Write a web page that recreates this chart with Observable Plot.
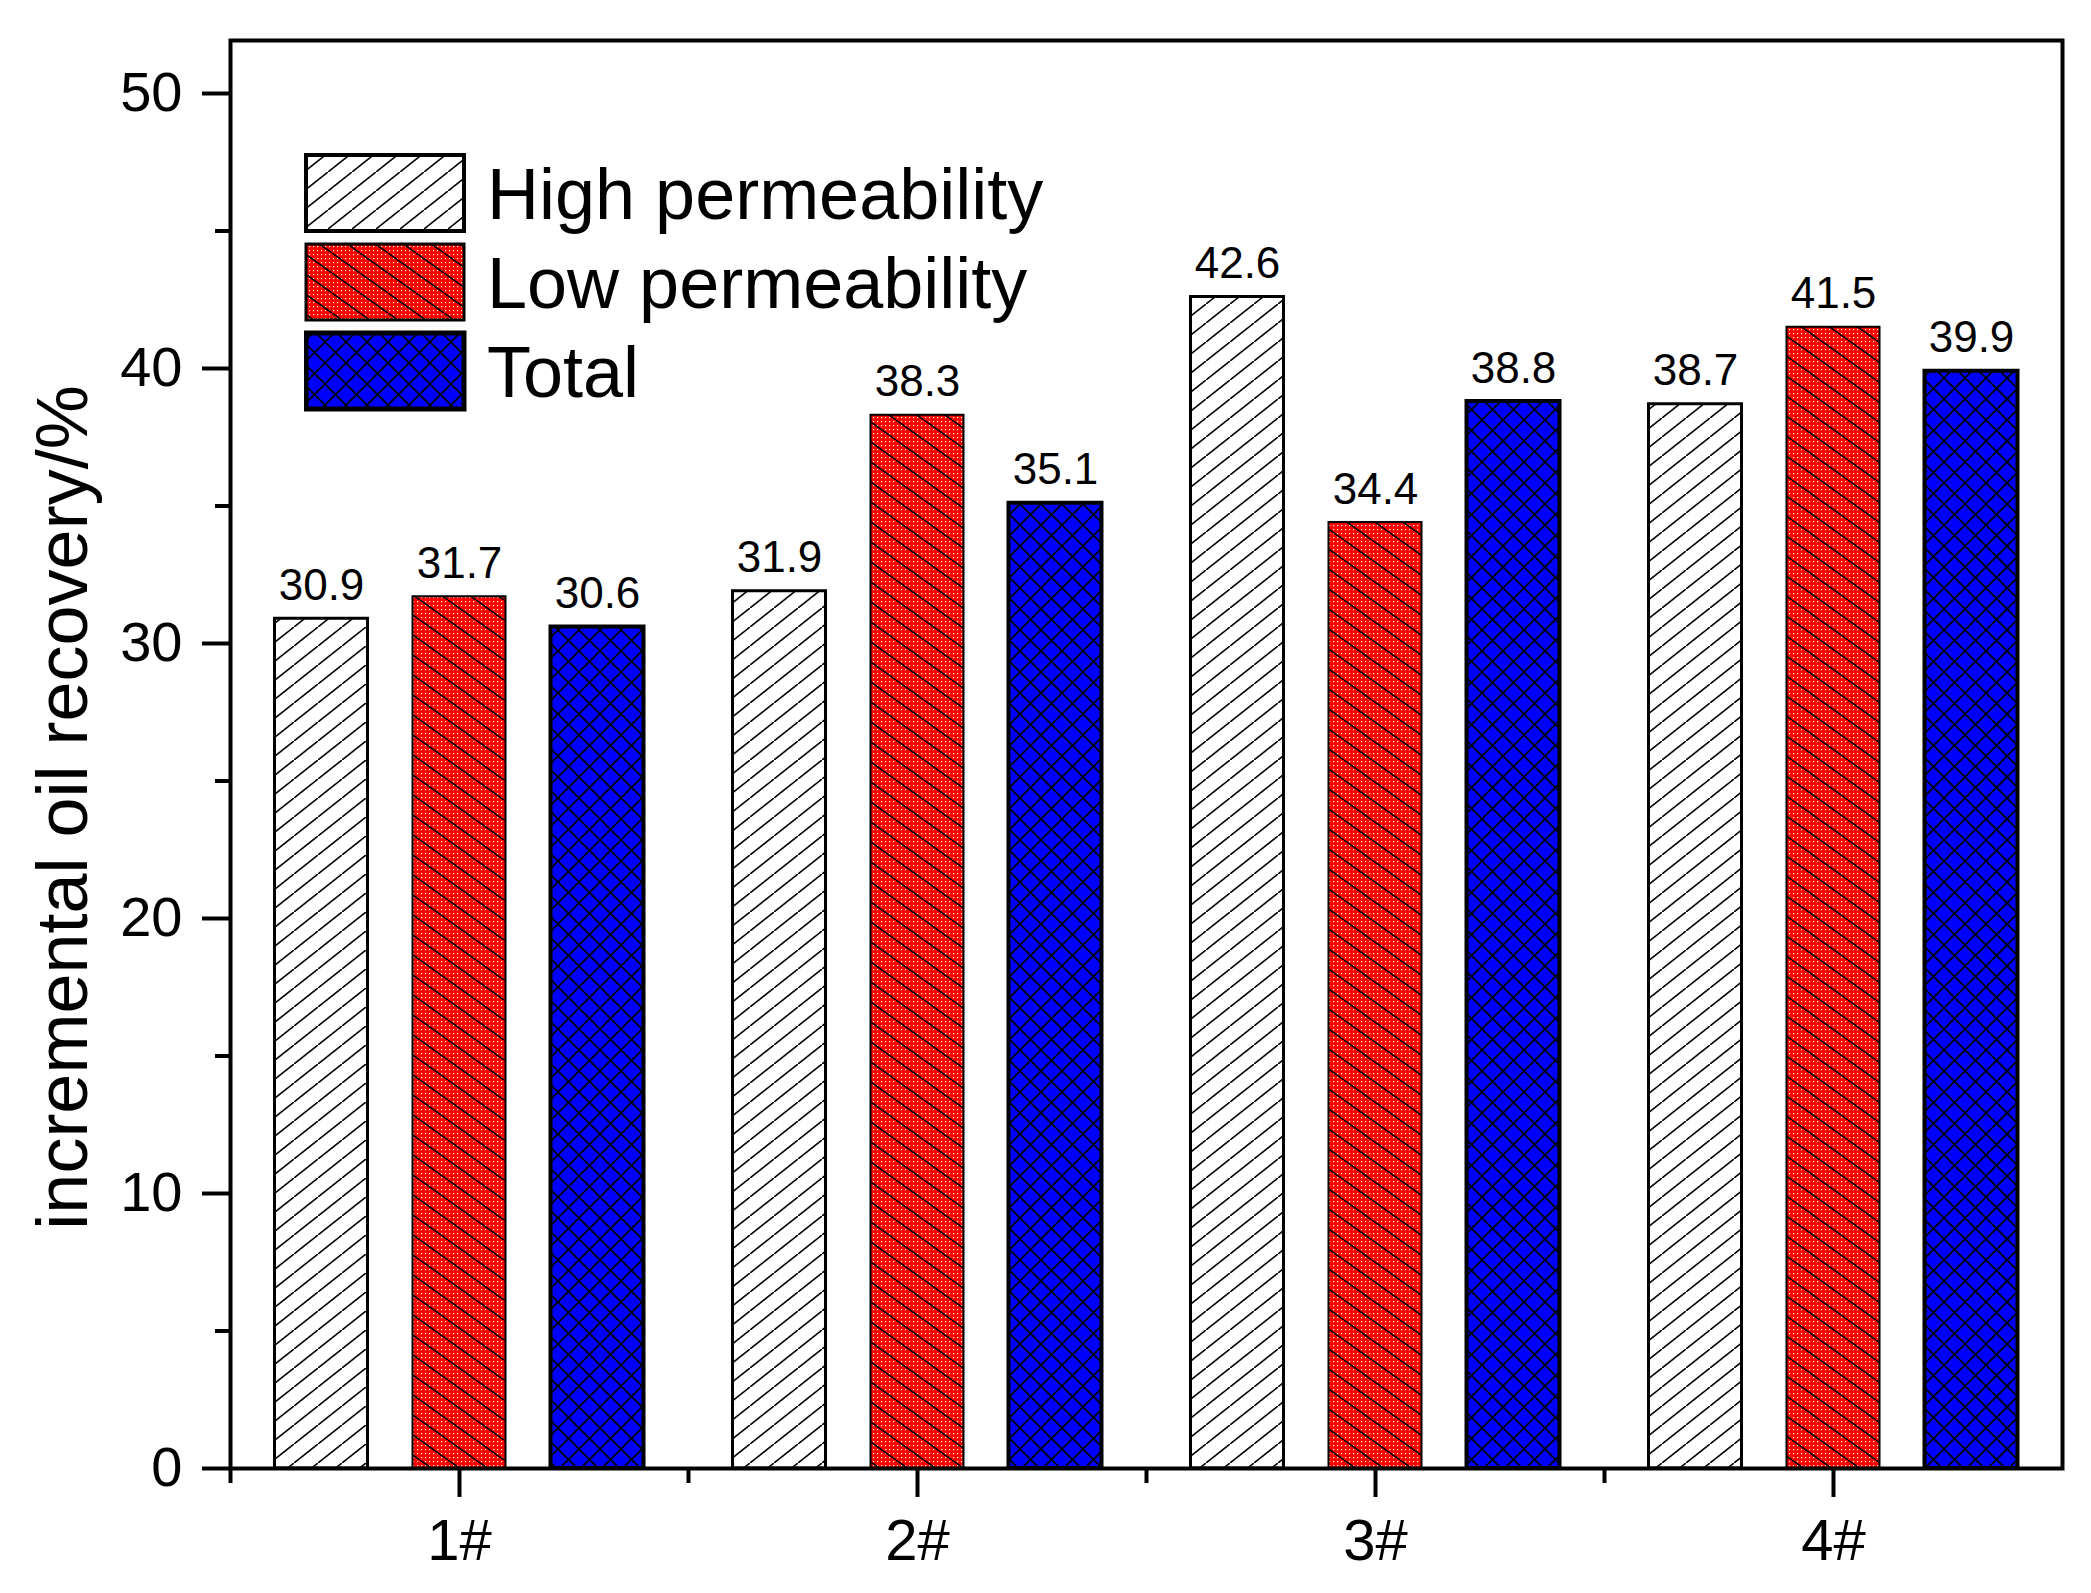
<!DOCTYPE html>
<html>
<head>
<meta charset="utf-8">
<script src="https://cdn.jsdelivr.net/npm/d3@7"></script>
<script src="https://cdn.jsdelivr.net/npm/@observablehq/plot@0.6"></script>
<style>
  body { margin: 0; background: #fff; }
  #wrap { position: relative; width: 2091px; height: 1593px; }
  #legend { position: absolute; left: 304px; top: 153px; }
</style>
</head>
<body>
<svg width="0" height="0" style="position:absolute">
  <defs>
    <!-- white dot for the red fill -->
    <pattern id="pDots" patternUnits="userSpaceOnUse" width="4" height="4">
      <rect width="4" height="4" fill="#ff0000"/>
      <rect x="1" y="1" width="1.2" height="1.2" fill="#fff"/>
    </pattern>
    <!-- white with "/" hatch -->
    <pattern id="pHigh" patternUnits="userSpaceOnUse" width="24" height="19">
      <rect width="24" height="19" fill="#fff"/>
      <line x1="-24" y1="38" x2="48" y2="-19" stroke="#000" stroke-width="1.6"/>
    </pattern>
    <!-- red dotted with "\" hatch -->
    <pattern id="pLow" patternUnits="userSpaceOnUse" width="28" height="20">
      <rect width="28" height="20" fill="url(#pDots)"/>
      <line x1="-28" y1="-20" x2="56" y2="40" stroke="#000" stroke-width="1.6"/>
    </pattern>
    <!-- blue crosshatch -->
    <pattern id="pTotal" patternUnits="userSpaceOnUse" width="21" height="21">
      <rect width="21" height="21" fill="#0000ff"/>
      <line x1="-21" y1="-21" x2="42" y2="42" stroke="#000" stroke-width="1.7"/>
      <line x1="-21" y1="42" x2="42" y2="-21" stroke="#000" stroke-width="1.7"/>
    </pattern>
  </defs>
</svg>
<div id="wrap">
  <div id="chart"></div>
  <div id="legend"></div>
</div>
<script>
// data
const groups = ["1#", "2#", "3#", "4#"];
const seriesNames = ["High permeability", "Low permeability", "Total"];
const high = [30.9, 31.9, 42.6, 38.7];
const low = [31.7, 38.3, 34.4, 41.5];
const total = [30.6, 35.1, 38.8, 39.9];
const yMajor = [0, 10, 20, 30, 40, 50];
const yMinor = [5, 15, 25, 35, 45];

const fills = ["url(#pHigh)", "url(#pLow)", "url(#pTotal)"];
const strokeW = [3, 2, 4];

const W = 2091, H = 1593;
const mL = 230, mR = 29, mT = 40, mB = 125;
const band = (W - mL - mR) / groups.length;
const barWidth = 93, barStep = 138;
const inset = (band - barWidth) / 2;
const font = "'Liberation Sans', Arial, sans-serif";

const seriesData = [high, low, total].map(vals => vals.map((v, i) => ({group: groups[i], value: v})));

const marks = [];
seriesData.forEach((data, k) => {
  const dx = (k - 1) * barStep;
  marks.push(Plot.barY(data, {
    x: "group", y: "value", dx,
    insetLeft: inset, insetRight: inset,
    fill: fills[k], stroke: "#000", strokeWidth: strokeW[k]
  }));
  marks.push(Plot.text(data, {
    x: "group", y: "value", text: d => d.value.toFixed(1), dx, dy: -19,
    lineAnchor: "bottom", fontSize: 44, fill: "#000"
  }));
});

let chart = Plot.plot({
  width: W,
  height: H,
  marginLeft: mL,
  marginRight: mR,
  marginTop: mT,
  marginBottom: mB,
  x: {domain: groups, padding: 0},
  y: {domain: [0, (H - mB - mT) / 27.5]},
  style: {fontFamily: font, background: "#fff", color: "#000", overflow: "visible"},
  marks: [
    ...marks,
    Plot.frame({stroke: "#000", strokeWidth: 4}),
    Plot.axisY({ticks: yMajor, tickSize: 28, tickPadding: 20, fontSize: 56, strokeWidth: 4, label: null}),
    Plot.axisY({ticks: yMinor, tickSize: 15, tickFormat: () => "", strokeWidth: 4, label: null}),
    Plot.axisX({tickSize: 29, tickPadding: 21, fontSize: 58, strokeWidth: 4, label: null}),
    Plot.axisX({tickSize: 15, dx: -band / 2, tickFormat: () => "", strokeWidth: 4, label: null}),
    Plot.text(["incremental oil recovery/%"], {
      text: d => d, frameAnchor: "left", textAnchor: "middle", lineAnchor: "middle",
      rotate: -90, dx: -167, dy: 53, fontSize: 72, fill: "#000"
    })
  ]
});
d3.select("#chart").append(() => chart);

// legend, drawn inside the plot area like the original
const lg = d3.select("#legend").append("svg")
  .attr("width", 820).attr("height", 260)
  .style("font-family", font);
seriesNames.forEach((name, k) => {
  const y0 = k * 89;
  lg.append("rect")
    .attr("x", 2).attr("y", y0 + 2).attr("width", 158).attr("height", 76)
    .attr("fill", fills[k]).attr("stroke", "#000").attr("stroke-width", strokeW[k] + 1);
  lg.append("text")
    .attr("x", 183).attr("y", y0 + 40 + 26)
    .attr("font-size", 72).attr("fill", "#000")
    .text(name);
});
</script>
</body>
</html>
